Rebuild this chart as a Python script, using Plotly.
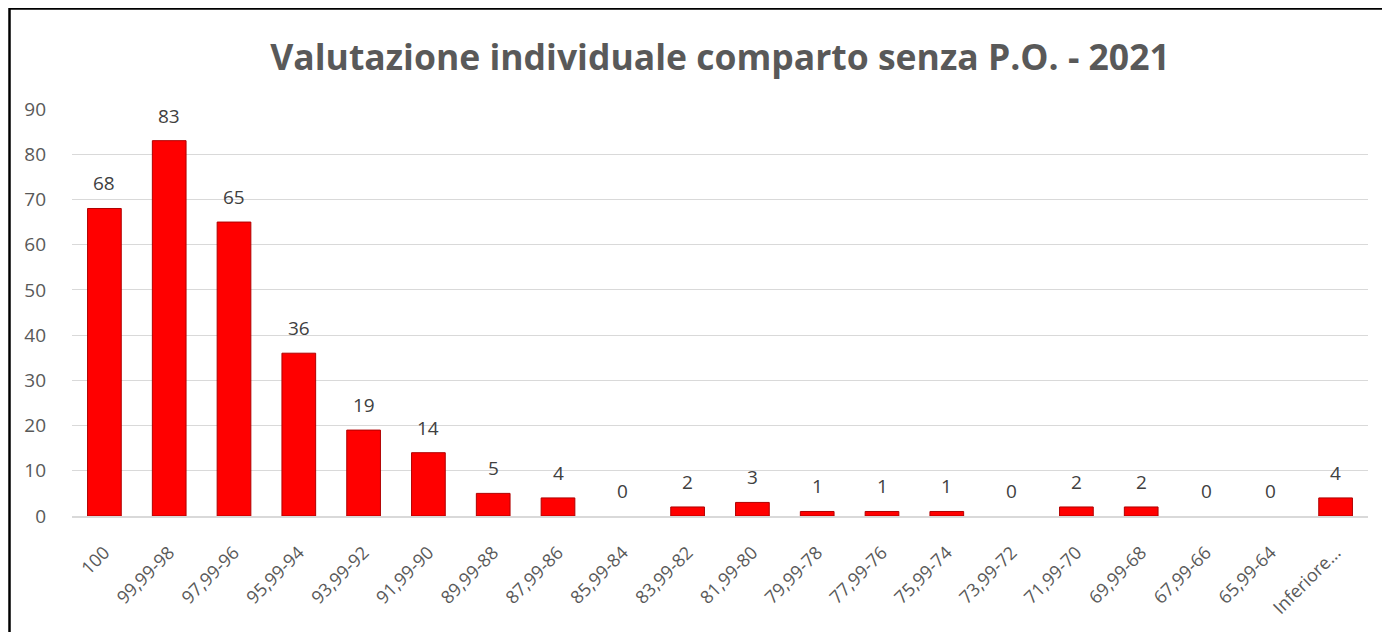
import plotly.graph_objects as go

categories = ["100", "99,99-98", "97,99-96", "95,99-94", "93,99-92", "91,99-90",
              "89,99-88", "87,99-86", "85,99-84", "83,99-82", "81,99-80", "79,99-78",
              "77,99-76", "75,99-74", "73,99-72", "71,99-70", "69,99-68", "67,99-66",
              "65,99-64", "Inferiore..."]
values = [68, 83, 65, 36, 19, 14, 5, 4, 0, 2, 3, 1, 1, 1, 0, 2, 2, 0, 0, 4]
y_ticks = [0, 10, 20, 30, 40, 50, 60, 70, 80, 90]
title_text = "Valutazione individuale comparto senza P.O. - 2021"

FONT = "Open Sans"
GRAY = "#595959"

fig = go.Figure()
fig.add_trace(go.Bar(
    x=categories, y=values, width=0.52,
    marker=dict(color="#FF0000",
                line=dict(color="#B00000",
                          width=[1 if v > 0 else 0 for v in values])),
    hoverinfo="x+y",
))

annotations = []
for i, v in enumerate(values):
    annotations.append(dict(
        x=i, y=v, xref="x", yref="y", text=str(v), showarrow=False,
        yanchor="bottom", yshift=10,
        font=dict(family=FONT, size=19, color="#404040"),
    ))

# page body has an 8px margin, so coordinates are offset by -8px
W, H = 1390, 632
L, R, T, B = 64, 30, 101, 124
pw, ph = W - L - R, H - T - B

def px_to_paper_x(px):
    return (px - L) / pw

def px_to_paper_y(py):
    return (H - B - py) / ph

fig.update_layout(
    width=W, height=H,
    margin=dict(l=L, r=R, t=T, b=B, autoexpand=False),
    paper_bgcolor="white", plot_bgcolor="white",
    showlegend=False,
    title=dict(text="<b>" + title_text + "</b>", x=0.5, xref="paper",
               xanchor="center", y=1 - 50 / H, yanchor="middle",
               font=dict(family=FONT, size=35.5, color=GRAY)),
    xaxis=dict(
        type="category", range=[-0.5, len(categories) - 0.5],
        tickangle=-45, showgrid=False,
        tickfont=dict(family=FONT, size=18, color=GRAY),
        showline=True, linecolor="#D9D9D9", linewidth=2,
        ticks="", ticklabelstandoff=17,
    ),
    yaxis=dict(
        range=[0, 90], tickvals=y_ticks, showgrid=True, gridcolor="#D9D9D9",
        gridwidth=1, zeroline=False, showline=False, ticks="",
        tickfont=dict(family=FONT, size=19, color=GRAY), ticklabelstandoff=25,
    ),
    annotations=annotations,
    shapes=[dict(
        type="rect", xref="paper", yref="paper",
        x0=px_to_paper_x(1.5), x1=px_to_paper_x(1420),
        y0=px_to_paper_y(660), y1=px_to_paper_y(0.5),
        line=dict(color="black", width=2.5), fillcolor="rgba(0,0,0,0)",
        layer="above",
    )],
)

fig.write_html("out.html")
